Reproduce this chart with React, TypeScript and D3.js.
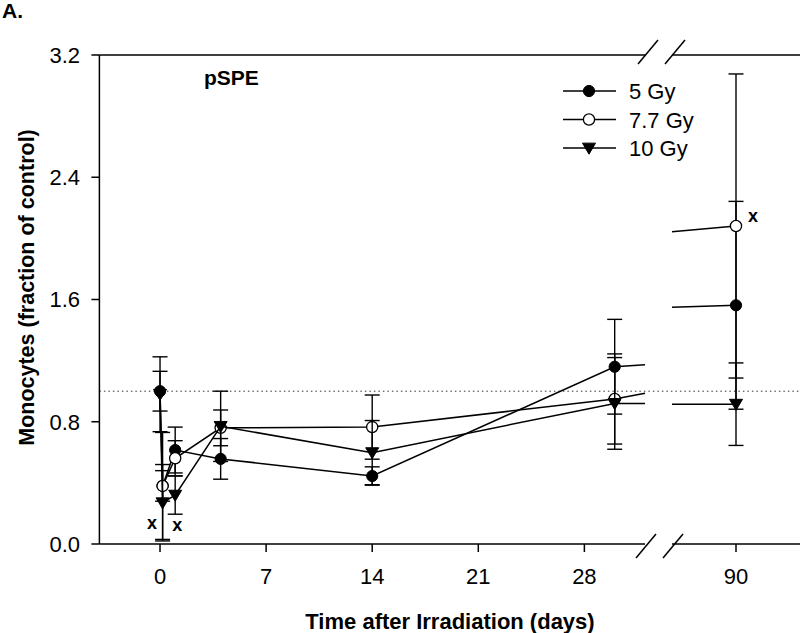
import React from "react";
import * as d3 from "d3";

// ---- data ----
const days = [0, 0.17, 1, 4, 14, 30, 90];
const seriesNames = ["5 Gy", "7.7 Gy", "10 Gy"];
const gy5 = [1.0, 0.38, 0.615, 0.557, 0.445, 1.16, 1.562];
const gy5Err = [0.13, 0.1, 0.15, 0.133, 0.06, 0.31, 0.68];
const gy77 = [null, 0.38, 0.561, 0.76, 0.765, 0.949, 2.081];
const gy77Err = [null, 0.35, 0.115, 0.117, 0.21, 0.295, 0.995];
const gy10 = [0.98, 0.27, 0.32, 0.77, 0.598, 0.92, 0.915];
const gy10Err = [0.245, 0.25, 0.125, 0.23, 0.21, 0.3, 0.27];
const yTicks = [0, 0.8, 1.6, 2.4, 3.2];
const xTicksLeft = [0, 7, 14, 21, 28];
const xTicksRight = [90];
const xMarks = [
  { d: 0, v: 0.13, dx: -8 },
  { d: 1, v: 0.12, dx: 2 },
  { d: 90, v: 2.14, dx: 17 },
];

const W = 800;
const H = 633;
const breakL = 32;
const breakR = 88;

const xl = d3.scaleLinear().domain([-4, breakL]).range([99.4, 645]);
const xr = d3.scaleLinear().domain([breakR, 92]).range([672, 800]);
const y = d3.scaleLinear().domain([0, 3.2]).range([544, 55]);
const xOf = (d: number) => (d <= breakL ? xl(d) : xr(d));

const FONT = "Liberation Sans, Arial, Helvetica, sans-serif";

function seriesPath(vals: (number | null)[]) {
  const pts: [number, number][] = [];
  days.forEach((d, i) => {
    const v = vals[i];
    if (v !== null && v !== undefined) pts.push([d, v]);
  });
  const p = d3.path();
  pts.forEach((pt, i) => {
    if (i === 0) {
      p.moveTo(xOf(pt[0]), y(pt[1]));
      return;
    }
    const [d0, v0] = pts[i - 1];
    const [d1, v1] = pt;
    if (d0 < breakL && d1 > breakR) {
      const vA = v0 + ((v1 - v0) * (breakL - d0)) / (d1 - d0);
      const vB = v0 + ((v1 - v0) * (breakR - d0)) / (d1 - d0);
      p.lineTo(xl(breakL), y(vA));
      p.moveTo(xr(breakR), y(vB));
      p.lineTo(xr(d1), y(v1));
    } else {
      p.lineTo(xOf(d1), y(v1));
    }
  });
  return p.toString();
}

const tri = (cx: number, cy: number, s = 6.5) =>
  `M${cx - s},${cy - s * 0.75}L${cx + s},${cy - s * 0.75}L${cx},${cy + s * 0.95}Z`;

function Marker({ kind, cx, cy }: { kind: number; cx: number; cy: number }) {
  if (kind === 0) return <circle cx={cx} cy={cy} r={5.6} fill="#000" stroke="#000" strokeWidth={1} />;
  if (kind === 1) return <circle cx={cx} cy={cy} r={5.6} fill="#fff" stroke="#000" strokeWidth={1.3} />;
  return <path d={tri(cx, cy)} fill="#000" stroke="#000" strokeWidth={1} />;
}

export default function App() {
  const all = [
    { vals: gy5, err: gy5Err },
    { vals: gy77, err: gy77Err },
    { vals: gy10, err: gy10Err },
  ];
  const capW = 7.5;
  const slash = (cx: number, cy: number) =>
    `M${cx - 10},${cy + 12}L${cx + 10},${cy - 12}`;
  return (
    <svg width={W} height={H} style={{ display: "block", position: "absolute", left: 0, top: 0 }} fontFamily={FONT}>
      <rect width={W} height={H} fill="#fff" />
      <text x={2} y={18} fontSize={21} fontWeight="bold">A.</text>

      {/* reference line */}
      <line x1={xl(-4)} x2={W} y1={y(1)} y2={y(1)} stroke="#333" strokeWidth={1} strokeDasharray="1.5,3" />

      {/* axes */}
      <g stroke="#000" strokeWidth={1.5} fill="none">
        <line x1={xl(-4)} x2={xl(-4)} y1={y(3.2)} y2={y(0)} />
        <line x1={xl(-4)} x2={xl(breakL)} y1={y(0)} y2={y(0)} />
        <line x1={xr(breakR)} x2={W} y1={y(0)} y2={y(0)} />
        <line x1={xl(-4)} x2={xl(breakL)} y1={y(3.2)} y2={y(3.2)} />
        <line x1={xr(breakR)} x2={W} y1={y(3.2)} y2={y(3.2)} />
        <path d={slash(xl(breakL) + 1, y(0) + 2)} />
        <path d={slash(xr(breakR) + 1, y(0) + 2)} />
        <path d={slash(xl(breakL) + 3, y(3.2) - 3)} />
        <path d={slash(xr(breakR) + 3, y(3.2) - 3)} />
      </g>

      {yTicks.map((t) => (
        <g key={"y" + t}>
          <line x1={xl(-4) - 8} x2={xl(-4)} y1={y(t)} y2={y(t)} stroke="#000" strokeWidth={1.5} />
          <text x={80} y={y(t) + 7.8} fontSize={22} textAnchor="end">{t.toFixed(1)}</text>
        </g>
      ))}
      {[...xTicksLeft.map((t) => [t, xl(t)]), ...xTicksRight.map((t) => [t, xr(t)])].map(([t, px]) => (
        <g key={"x" + t}>
          <line x1={px} x2={px} y1={y(0)} y2={y(0) + 8} stroke="#000" strokeWidth={1.5} />
          <text x={px} y={584} fontSize={22} textAnchor="middle">{t}</text>
        </g>
      ))}

      <text x={450} y={629} fontSize={22} fontWeight="bold" textAnchor="middle">Time after Irradiation (days)</text>
      <text transform={`translate(34,${(y(0) + y(3.2)) / 2 - 12}) rotate(-90)`} fontSize={21.5} fontWeight="bold" textAnchor="middle">
        Monocytes (fraction of control)
      </text>
      <text x={204} y={85} fontSize={21} fontWeight="bold">pSPE</text>

      {/* series */}
      {all.map((s, k) => (
        <g key={"s" + k}>
          <g stroke="#000" strokeWidth={1.4}>
            {days.map((d, i) => {
              const v = s.vals[i];
              const e = s.err[i];
              if (v === null || e === null) return null;
              const cx = xOf(d);
              return (
                <g key={i}>
                  <line x1={cx} x2={cx} y1={y(v - e)} y2={y(v + e)} />
                  <line x1={cx - capW} x2={cx + capW} y1={y(v + e)} y2={y(v + e)} />
                  <line x1={cx - capW} x2={cx + capW} y1={y(v - e)} y2={y(v - e)} />
                </g>
              );
            })}
          </g>
          <path d={seriesPath(s.vals)} fill="none" stroke="#000" strokeWidth={1.5} />
          {days.map((d, i) => {
            const v = s.vals[i];
            if (v === null) return null;
            return <Marker key={i} kind={k} cx={xOf(d)} cy={y(v)} />;
          })}
        </g>
      ))}

      {xMarks.map((m, i) => (
        <text key={"m" + i} x={xOf(m.d) + m.dx} y={y(m.v) + 5} fontSize={18} fontWeight="bold" textAnchor="middle">x</text>
      ))}

      {/* legend */}
      {seriesNames.map((n, i) => {
        const cy = 91 + i * 28.5;
        return (
          <g key={n}>
            <line x1={563} x2={616} y1={cy} y2={cy} stroke="#000" strokeWidth={1.5} />
            <Marker kind={i} cx={589} cy={cy} />
            <text x={629} y={cy + 8} fontSize={22}>{n}</text>
          </g>
        );
      })}
    </svg>
  );
}
